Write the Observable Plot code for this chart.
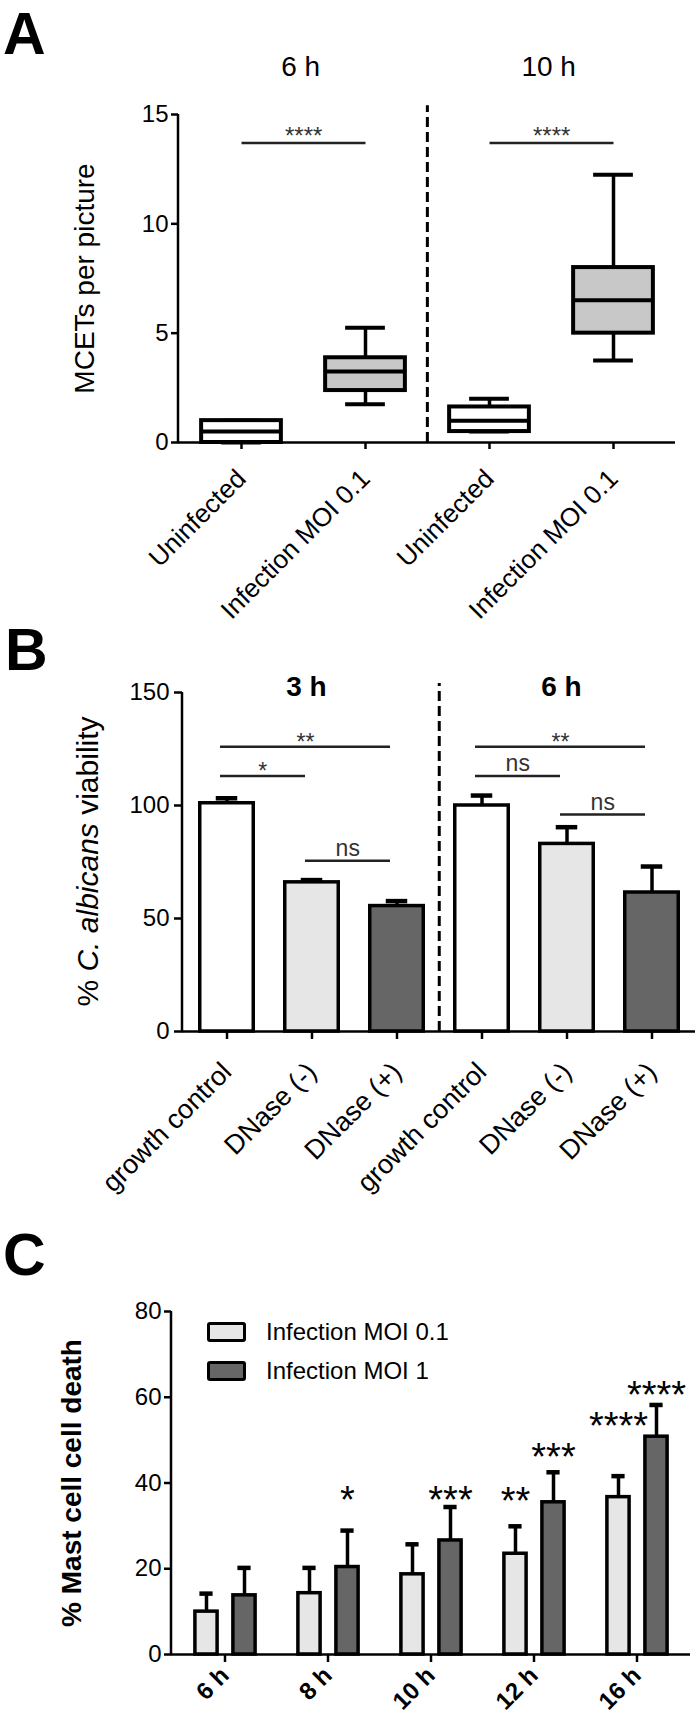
<!DOCTYPE html>
<html>
<head>
<meta charset="utf-8">
<script src="https://cdn.jsdelivr.net/npm/d3@7"></script>
<script src="https://cdn.jsdelivr.net/npm/@observablehq/plot@0.6"></script>
<style>
  html, body { margin:0; padding:0; background:#fff; }
  body { width:700px; height:1720px; position:relative; overflow:hidden;
         font-family:"Liberation Sans", Arial, Helvetica, sans-serif; color:#000; }
  .panel { position:absolute; left:0; }
  .letter { position:absolute; font-weight:bold; font-size:59px; line-height:66px; }
  .legend { position:absolute; left:207px; top:1317px; font-size:24px; }
  .legend .row { position:absolute; left:0; height:30px; display:flex; align-items:center; white-space:nowrap; }
  .legend .sw { width:33px; height:14px; border:3px solid #000; border-radius:3px; margin-right:20px; box-sizing:content-box; }
</style>
</head>
<body>
<div id="panelA" class="panel" style="top:0px"></div>
<div id="panelB" class="panel" style="top:640px"></div>
<div id="panelC" class="panel" style="top:1220px"></div>
<div class="letter" style="left:3px;top:1px">A</div>
<div class="letter" style="left:5px;top:617px">B</div>
<div class="letter" style="left:3px;top:1222px">C</div>
<div class="legend" id="legendC"></div>
<script>
// ================= DATA =================
// Panel A: MCETs per picture (box plots: min, Q1, median, Q3, max)
const aGroups     = ["6 h", "6 h", "10 h", "10 h"];
const aConditions = ["Uninfected", "Infection MOI 0.1", "Uninfected", "Infection MOI 0.1"];
const aMin    = [0,   1.75,  0.5,   3.75];
const aQ1     = [0,   2.375, 0.5,   5];
const aMedian = [0.5, 3.25,  1,     6.5];
const aQ3     = [1,   3.875, 1.625, 8];
const aMax    = [1,   5.25,  2,     12.25];
const aTicks  = [0, 5, 10, 15];
const aSigFrom  = [0, 2];
const aSigTo    = [1, 3];
const aSigY     = [13.7, 13.7];
const aSigLabel = ["****", "****"];

// Panel B: % C. albicans viability (mean + SD)
const bGroups     = ["3 h", "3 h", "3 h", "6 h", "6 h", "6 h"];
const bConditions = ["growth control", "DNase (-)", "DNase (+)", "growth control", "DNase (-)", "DNase (+)"];
const bMean = [101, 66, 55.5, 100, 83, 61.5];
const bSD   = [2.2, 1, 2.2, 4.4, 7.4, 11.5];
const bTicks = [0, 50, 100, 150];
const bSigFrom  = [0, 0, 1, 3, 3, 4];
const bSigTo    = [2, 1, 2, 5, 4, 5];
const bSigY     = [126, 113, 75.5, 126, 113, 96];
const bSigLabel = ["**", "*", "ns", "**", "ns", "ns"];

// Panel C: % Mast cell cell death (mean + SD)
const cTimes   = ["6 h", "8 h", "10 h", "12 h", "16 h"];
const cSeries  = ["Infection MOI 0.1", "Infection MOI 1"];
const cMoi01   = [10, 14.3, 18.7, 23.5, 36.7];
const cMoi01SD = [4.2, 5.9, 7.0, 6.4, 4.9];
const cMoi1    = [13.8, 20.4, 26.6, 35.5, 50.8];
const cMoi1SD  = [6.4, 8.5, 7.8, 7.0, 7.4];
const cTicks   = [0, 20, 40, 60, 80];
const cStars01  = ["", "", "", "**", "****"];
const cStars01Y = [null, null, null, 37.6, 55.1];
const cStars1   = ["", "*", "***", "***", "****"];
const cStars1Y  = [null, 37.9, 37.9, 48.0, 62.5];

// ================= HELPERS =================
const FONT = "Liberation Sans, Arial, Helvetica, sans-serif";
const keyLabel = k => k.split("|")[1];

function yAxisLine(yMax) {
  return (index, scales, values, dims) => {
    const y = scales.y;
    return d3.create("svg:line")
      .attr("x1", dims.marginLeft).attr("x2", dims.marginLeft)
      .attr("y1", y(0) + 1.25).attr("y2", y(yMax))
      .attr("stroke", "#000").attr("stroke-width", 2.5).node();
  };
}

function richYLabel(parts, dx, size, weight) {
  return (index, scales, values, dims) => {
    const cy = (dims.marginTop + dims.height - dims.marginBottom) / 2;
    const g = d3.create("svg:g");
    const t = g.append("text")
      .attr("transform", `translate(${dims.marginLeft + dx},${cy}) rotate(-90)`)
      .attr("text-anchor", "middle").attr("dy", "0.35em")
      .attr("font-size", size).attr("font-weight", weight || "normal")
      .attr("font-family", FONT).attr("fill", "#000");
    for (const p of parts) {
      t.append("tspan").attr("font-style", p.italic ? "italic" : null).text(p.text);
    }
    return g.node();
  };
}

function sigMarks(keys, from, to, ys, labels, bw, lineDx, starDy, nsDy, size) {
  const data = from.map((f, i) => ({x1: keys[f], x2: keys[to[i]], y: ys[i], label: labels[i], span: to[i] - f}));
  const marks = [Plot.link(data, {x1: "x1", x2: "x2", y1: "y", y2: "y", dx: lineDx, stroke: "#222", strokeWidth: 2.5})];
  for (const d of data) {
    const isStar = /^\*+$/.test(d.label);
    marks.push(Plot.text([d], {x: "x1", y: "y", text: "label", dx: d.span * bw / 2 + lineDx,
      dy: isStar ? starDy : nsDy, lineAnchor: "bottom", fontSize: size, fill: "#333"}));
  }
  return marks;
}

function groupTitles(groups, keys, bw, dyTop, weight, extraDx) {
  const names = [...new Set(groups)];
  const data = names.map(n => {
    const idx = groups.map((g, i) => g === n ? i : -1).filter(i => i >= 0);
    return {key: keys[idx[0]], label: n, span: idx.length - 1};
  });
  return data.map(d => Plot.text([d], {x: "key", text: "label", frameAnchor: "top",
    dx: d.span * bw / 2 + extraDx, dy: dyTop, fontSize: 28, fontWeight: weight, fill: "#000", lineAnchor: "middle"}));
}

// ================= PANEL A =================
const aKeys = aConditions.map((c, i) => aGroups[i] + "|" + c);
const aData = aKeys.map((k, i) => ({key: k, cond: aConditions[i], min: aMin[i], q1: aQ1[i], med: aMedian[i], q3: aQ3[i], max: aMax[i]}));
const aW = 700, aML = 178, aMR = 25;
const aBw = (aW - aML - aMR) / aKeys.length;
const aBoxIn = (aBw - 80) / 2, aCapIn = (aBw - 40) / 2;
const aSepIdx = aGroups.indexOf(aGroups[aGroups.length - 1]);

const plotA = Plot.plot({
  width: aW, height: 640, marginTop: 114, marginBottom: 198, marginLeft: aML, marginRight: aMR,
  style: {fontFamily: FONT, background: "white", overflow: "visible", color: "#000"},
  x: {type: "band", domain: aKeys, padding: 0},
  y: {domain: [0, 15]},
  marks: [
    Plot.ruleX(aData, {x: "key", y1: "min", y2: "q1", stroke: "#000", strokeWidth: 3.5}),
    Plot.ruleX(aData, {x: "key", y1: "q3", y2: "max", stroke: "#000", strokeWidth: 3.5}),
    Plot.tickY(aData, {x: "key", y: "min", insetLeft: aCapIn, insetRight: aCapIn, stroke: "#000", strokeWidth: 4}),
    Plot.tickY(aData, {x: "key", y: "max", insetLeft: aCapIn, insetRight: aCapIn, stroke: "#000", strokeWidth: 4}),
    Plot.barY(aData, {x: "key", y1: "q1", y2: "q3", fill: d => d.cond === "Uninfected" ? "#ffffff" : "#c8c8c8",
      stroke: "#000", strokeWidth: 4, insetLeft: aBoxIn, insetRight: aBoxIn}),
    Plot.tickY(aData, {x: "key", y: "med", insetLeft: aBoxIn, insetRight: aBoxIn, stroke: "#000", strokeWidth: 4}),
    Plot.ruleX([aKeys[aSepIdx]], {x: d => d, y1: 0, y2: 15.4, dx: -aBw / 2, stroke: "#000", strokeWidth: 3, strokeDasharray: "10,5"}),
    Plot.ruleY([0], {stroke: "#000", strokeWidth: 2.5}),
    yAxisLine(15),
    Plot.axisY({ticks: aTicks, tickSize: 7, tickPadding: 3, fontSize: 24, strokeWidth: 2.5, label: null}),
    Plot.axisX({tickRotate: -45, tickSize: 7, tickPadding: 25, fontSize: 26, strokeWidth: 2.5, tickFormat: keyLabel, label: null}),
    ...sigMarks(aKeys, aSigFrom, aSigTo, aSigY, aSigLabel, aBw, 0, 1, -4, 24),
    ...groupTitles(aGroups, aKeys, aBw, -47, "normal", -3),
    Plot.text(["MCETs per picture"], {text: d => d, frameAnchor: "left", textAnchor: "middle", lineAnchor: "middle",
      rotate: -90, dx: -93, fontSize: 28, fill: "#000"})
  ]
});
document.getElementById("panelA").append(plotA);

// ================= PANEL B =================
const bKeys = bConditions.map((c, i) => bGroups[i] + "|" + c);
const bFill = {"growth control": "#ffffff", "DNase (-)": "#e6e6e6", "DNase (+)": "#666666"};
const bData = bKeys.map((k, i) => ({key: k, cond: bConditions[i], mean: bMean[i], top: bMean[i] + bSD[i]}));
const bW = 700, bML = 182, bMR = 5;
const bBw = (bW - bML - bMR) / bKeys.length;
const bBarIn = (bBw - 54) / 2, bCapIn = (bBw - 22) / 2;
const bSepIdx = bGroups.indexOf(bGroups[bGroups.length - 1]);

const plotB = Plot.plot({
  width: bW, height: 580, marginTop: 52, marginBottom: 189, marginLeft: bML, marginRight: bMR,
  style: {fontFamily: FONT, background: "white", overflow: "visible", color: "#000"},
  x: {type: "band", domain: bKeys, padding: 0},
  y: {domain: [0, 150]},
  marks: [
    Plot.ruleX(bData, {x: "key", y1: "mean", y2: "top", stroke: "#000", strokeWidth: 3.5}),
    Plot.tickY(bData, {x: "key", y: "top", insetLeft: bCapIn, insetRight: bCapIn, stroke: "#000", strokeWidth: 4.5}),
    Plot.barY(bData, {x: "key", y: "mean", fill: d => bFill[d.cond], stroke: "#000", strokeWidth: 3.5,
      insetLeft: bBarIn, insetRight: bBarIn}),
    Plot.ruleX([bKeys[bSepIdx]], {x: d => d, y1: 0, y2: 154, dx: -bBw / 2, stroke: "#000", strokeWidth: 3, strokeDasharray: "10,5"}),
    Plot.ruleY([0], {stroke: "#000", strokeWidth: 2.5}),
    yAxisLine(150),
    Plot.axisY({ticks: bTicks, tickSize: 8, tickPadding: 5, fontSize: 24, strokeWidth: 2.5, label: null}),
    Plot.axisX({tickRotate: -45, tickSize: 8, tickPadding: 28, fontSize: 27, strokeWidth: 2.5, tickFormat: keyLabel, label: null}),
    ...sigMarks(bKeys, bSigFrom, bSigTo, bSigY, bSigLabel, bBw, -7, 3, -5, 23),
    ...groupTitles(bGroups, bKeys, bBw, -5, "bold", -6),
    richYLabel([{text: "% "}, {text: "C. albicans", italic: true}, {text: " viability"}], -95, 30, "normal")
  ]
});
document.getElementById("panelB").append(plotB);

// ================= PANEL C =================
const cData01 = cTimes.map((t, i) => ({time: t, v: cMoi01[i], top: cMoi01[i] + cMoi01SD[i], star: cStars01[i], sy: cStars01Y[i]}));
const cData1  = cTimes.map((t, i) => ({time: t, v: cMoi1[i],  top: cMoi1[i] + cMoi1SD[i],  star: cStars1[i],  sy: cStars1Y[i]}));
const cColors = ["#e6e6e6", "#666666"];
const cW = 700, cML = 171, cMR = 10;
const cBw = (cW - cML - cMR) / cTimes.length;
const half = cBw / 2;
// bar geometry relative to band centre
const c0 = {l: -30, r: -7}, c1 = {l: 8, r: 31};
const capW = 14;
const c0mid = (c0.l + c0.r) / 2, c1mid = (c1.l + c1.r) / 2;

function cSeriesMarks(data, geo, mid, color) {
  return [
    Plot.ruleX(data, {x: "time", y1: "v", y2: "top", dx: mid, stroke: "#000", strokeWidth: 3.5}),
    Plot.tickY(data, {x: "time", y: "top", insetLeft: half + mid - capW / 2, insetRight: half - mid - capW / 2, stroke: "#000", strokeWidth: 4.5}),
    Plot.barY(data, {x: "time", y: "v", fill: color, stroke: "#000", strokeWidth: 3.5,
      insetLeft: half + geo.l, insetRight: half - geo.r}),
    Plot.text(data.filter(d => d.star), {x: "time", y: "sy", text: "star", dx: mid, dy: 9, lineAnchor: "middle",
      fontSize: 38, fill: "#000"})
  ];
}

const plotC = Plot.plot({
  width: cW, height: 500, marginTop: 91, marginBottom: 66, marginLeft: cML, marginRight: cMR,
  style: {fontFamily: FONT, background: "white", overflow: "visible", color: "#000"},
  x: {type: "band", domain: cTimes, padding: 0},
  y: {domain: [0, 80]},
  marks: [
    ...cSeriesMarks(cData01, c0, c0mid, cColors[0]),
    ...cSeriesMarks(cData1, c1, c1mid, cColors[1]),
    Plot.ruleY([0], {stroke: "#000", strokeWidth: 2.5}),
    yAxisLine(80),
    Plot.axisY({ticks: cTicks, tickSize: 7, tickPadding: 3, fontSize: 24, strokeWidth: 2.5, label: null}),
    Plot.axisX({tickRotate: -45, tickSize: 8, tickPadding: 9, fontSize: 24, fontWeight: "bold", strokeWidth: 2.5, label: null}),
    Plot.text(["% Mast cell cell death"], {text: d => d, frameAnchor: "left", textAnchor: "middle", lineAnchor: "middle",
      rotate: -90, dx: -99, fontSize: 28, fontWeight: "bold", fill: "#000"})
  ]
});
document.getElementById("panelC").append(plotC);

// legend (HTML, over the SVG)
const legend = document.getElementById("legendC");
cSeries.forEach((s, i) => {
  const row = document.createElement("div");
  row.className = "row";
  row.style.top = (i * 39) + "px";
  const sw = document.createElement("div");
  sw.className = "sw";
  sw.style.background = cColors[i];
  const tx = document.createElement("span");
  tx.textContent = s;
  row.append(sw, tx);
  legend.append(row);
});
</script>
</body>
</html>
